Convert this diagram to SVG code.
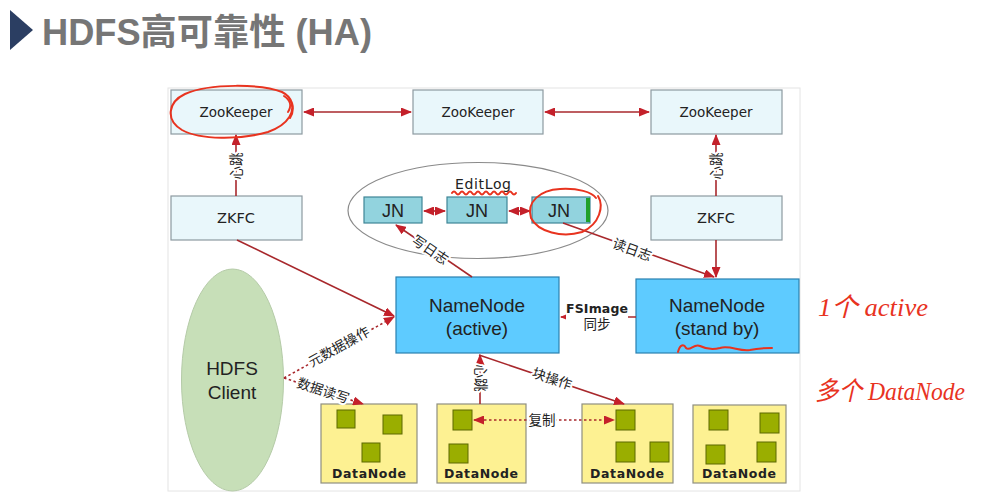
<svg xmlns="http://www.w3.org/2000/svg" width="986" height="503" viewBox="0 0 986 503">
<defs>
<marker id="ah" markerUnits="userSpaceOnUse" markerWidth="11" markerHeight="9" refX="10" refY="4.5" orient="auto-start-reverse" viewBox="0 0 11 9">
<path d="M0,0 L11,4.5 L0,9 z" fill="#c4202a"/>
</marker>
<style>
.ln{stroke:#a8282c;stroke-width:1.6;fill:none}
.dt{stroke:#a8282c;stroke-width:1.6;fill:none;stroke-dasharray:2.5 2.5}
.zk{fill:#e9f7fb;stroke:#8d9aa1;stroke-width:1.2}
.jn{fill:#92d3de;stroke:#3f8596;stroke-width:1.2}
.nn{fill:#5ecbff;stroke:#2a80b0;stroke-width:1.2}
.dn{fill:#fdf192;stroke:#8f8f80;stroke-width:1.2}
.blk{fill:#9aae00;stroke:#5c6900;stroke-width:1}
.t{font-family:"DejaVu Sans","Noto Sans CJK SC",sans-serif;fill:#222;text-anchor:middle}
.s{font-family:"Liberation Sans","Noto Sans CJK SC",sans-serif;fill:#222;text-anchor:middle}
.lbl{font-family:"Noto Sans CJK SC",sans-serif;font-size:13.5px;fill:#222;text-anchor:middle;stroke:#fff;stroke-width:4;paint-order:stroke;stroke-linejoin:round}
.red{fill:none;stroke:#e8331f;stroke-width:2;stroke-linecap:round;stroke-linejoin:round}
.hw{font-family:"Liberation Serif","Noto Sans CJK SC",serif;font-style:italic;fill:#e8331f}
</style>
</defs>
<rect width="986" height="503" fill="#ffffff"/>
<g id="title">
<path d="M10,10 L33,30 L10,50 z" fill="#2b3e62"/>
<text x="42" y="45" font-family="Liberation Sans,'Noto Sans CJK SC',sans-serif" font-weight="bold" font-size="36" fill="#767676" textLength="330" lengthAdjust="spacingAndGlyphs">HDFS高可靠性 (HA)</text>
</g>
<rect id="panel" x="168" y="88" width="632" height="403" fill="#ffffff" stroke="#e4e4e4" stroke-width="1"/>

<g id="journal-ring"><ellipse cx="478" cy="210.5" rx="130" ry="48" fill="none" stroke="#8a8a8a" stroke-width="1.2"/>
<text x="483" y="189" class="t" font-size="14" textLength="56">EditLog</text></g>

<g id="zk1"><rect class="zk" x="171" y="90" width="131" height="44"/><text class="t" x="236" y="117" font-size="13.5">ZooKeeper</text></g>
<g id="zk2"><rect class="zk" x="413" y="90" width="130" height="44"/><text class="t" x="478" y="117" font-size="13.5">ZooKeeper</text></g>
<g id="zk3"><rect class="zk" x="651" y="90" width="131" height="44"/><text class="t" x="716" y="117" font-size="13.5">ZooKeeper</text></g>
<g id="zkfc1"><rect class="zk" x="171" y="196" width="131" height="44"/><text class="t" x="236" y="223" font-size="14.5">ZKFC</text></g>
<g id="zkfc2"><rect class="zk" x="651" y="196" width="131" height="44"/><text class="t" x="716" y="223" font-size="14.5">ZKFC</text></g>

<g id="jn1"><rect class="jn" x="364" y="197" width="58" height="26"/><text class="s" x="393" y="217" font-size="18">JN</text></g>
<g id="jn2"><rect class="jn" x="447" y="197" width="60" height="26"/><text class="s" x="477" y="217" font-size="18">JN</text></g>
<g id="jn3"><rect class="jn" x="532" y="197" width="58" height="26"/><rect x="586" y="198" width="4" height="24" fill="#1fa02a"/><text class="s" x="559" y="217" font-size="18">JN</text></g>

<g id="nn-active"><rect class="nn" x="396" y="277" width="163" height="76"/><text class="s" x="477" y="312" font-size="19">NameNode</text><text class="s" x="477" y="335" font-size="19">(active)</text></g>
<g id="nn-standby"><rect class="nn" x="636" y="279" width="163" height="74"/><text class="s" x="717" y="312" font-size="19">NameNode</text><text class="s" x="717" y="335" font-size="19">(stand by)</text></g>

<g id="client"><ellipse cx="232.5" cy="380" rx="51" ry="111" fill="#c7dfb8" stroke="#b5cba8" stroke-width="1"/><text class="s" x="232" y="375" font-size="19">HDFS</text><text class="s" x="232" y="399" font-size="19">Client</text></g>

<g id="dn1"><rect class="dn" x="321" y="404" width="96" height="79"/>
<rect class="blk" x="337" y="410" width="18" height="18"/><rect class="blk" x="383" y="415" width="19" height="19"/><rect class="blk" x="362" y="443" width="18" height="19"/>
<text class="t" x="369" y="478" font-size="12.5" font-weight="bold" textLength="74">DataNode</text></g>
<g id="dn2"><rect class="dn" x="437" y="404" width="89" height="79"/>
<rect class="blk" x="453" y="410" width="19" height="20"/><rect class="blk" x="449" y="444" width="19" height="19"/>
<text class="t" x="481" y="478" font-size="12.5" font-weight="bold" textLength="74">DataNode</text></g>
<g id="dn3"><rect class="dn" x="582" y="404" width="91" height="79"/>
<rect class="blk" x="616" y="410" width="19" height="20"/><rect class="blk" x="616" y="442" width="19" height="20"/><rect class="blk" x="650" y="442" width="19" height="20"/>
<text class="t" x="627" y="478" font-size="12.5" font-weight="bold" textLength="74">DataNode</text></g>
<g id="dn4"><rect class="dn" x="693" y="405" width="93" height="78"/>
<rect class="blk" x="709" y="410" width="19" height="20"/><rect class="blk" x="760" y="413" width="19" height="20"/><rect class="blk" x="706" y="445" width="19" height="19"/><rect class="blk" x="757" y="442" width="19" height="20"/>
<text class="t" x="739" y="478" font-size="12.5" font-weight="bold" textLength="74">DataNode</text></g>

<g id="connectors">
<line class="ln" x1="304" y1="112" x2="411" y2="112" marker-start="url(#ah)" marker-end="url(#ah)"/>
<line class="ln" x1="545" y1="112" x2="649" y2="112" marker-start="url(#ah)" marker-end="url(#ah)"/>
<line class="ln" x1="236" y1="196" x2="236" y2="135" marker-end="url(#ah)"/>
<text class="lbl" transform="translate(236,166) rotate(-90)" y="4.5">心跳</text>
<line class="ln" x1="716" y1="196" x2="716" y2="135" marker-end="url(#ah)"/>
<text class="lbl" transform="translate(716,166) rotate(-90)" y="4.5">心跳</text>
<line class="ln" x1="424" y1="211" x2="445" y2="211" marker-start="url(#ah)" marker-end="url(#ah)"/>
<line class="ln" x1="509" y1="211" x2="530" y2="211" marker-start="url(#ah)" marker-end="url(#ah)"/>
<line class="ln" x1="716" y1="240" x2="716" y2="277" marker-end="url(#ah)"/>
<line class="ln" x1="237" y1="240" x2="394" y2="316" marker-end="url(#ah)"/>
<line class="ln" x1="472" y1="277" x2="396" y2="225" marker-end="url(#ah)"/>
<text class="lbl" transform="translate(430,250) rotate(34)" y="4.5">写日志</text>
<line class="ln" x1="563" y1="223" x2="714" y2="277" marker-end="url(#ah)"/>
<text class="lbl" transform="translate(632,250) rotate(20)" y="4.5">读日志</text>
<line class="ln" x1="636" y1="317" x2="561" y2="317" marker-end="url(#ah)"/>
<rect x="566" y="302" width="62" height="29" fill="#ffffff"/>
<text class="t" x="597" y="313" font-size="12.5" font-weight="bold" textLength="62">FSImage</text>
<text class="t" x="597" y="329" font-size="13.5" font-family="Noto Sans CJK SC,sans-serif">同步</text>
<line class="dt" x1="284" y1="378" x2="394" y2="317" marker-end="url(#ah)"/>
<text class="lbl" transform="translate(339,347) rotate(-29)" y="4.5">元数据操作</text>
<line class="dt" x1="284" y1="378" x2="363" y2="404" marker-end="url(#ah)"/>
<text class="lbl" transform="translate(323,391) rotate(18)" y="4.5">数据读写</text>
<line class="ln" x1="480" y1="404" x2="480" y2="355" marker-end="url(#ah)"/>
<text class="lbl" transform="translate(480,378) rotate(90)" y="4.5">心跳</text>
<line class="ln" x1="479" y1="355" x2="624" y2="404" marker-end="url(#ah)"/>
<text class="lbl" transform="translate(552,379) rotate(18.5)" y="4.5">块操作</text>
<line class="dt" x1="474" y1="420" x2="614" y2="420" marker-start="url(#ah)" marker-end="url(#ah)"/>
<text class="lbl" x="542" y="425">复制</text>
</g>

<g id="annotations">
<path class="red" d="M290,100 C296,110 290,124 268,132 C240,140 200,140 182,130 C165,120 168,102 185,94 C210,83 262,84 282,92 C292,97 296,108 290,118"/>
<path class="red" d="M284,96 C290,100 292,106 288,112"/>
<path class="red" stroke-width="1.5" d="M452,193 q2,-3 4,0 t4,0 t4,0 t4,0 t4,0 t4,0 t4,0 t4,0 t4,0 t4,0 t4,0 t4,0 t4,0 t4,0 t4,0 t4,0"/>
<path class="red" d="M598,196 C604,206 600,224 582,232 C562,238 538,232 531,218 C526,202 540,190 560,189 C578,188 592,192 596,198"/>
<path class="red" stroke-width="1.5" d="M678,352 C680,344 684,344 686,348 C690,352 694,343 700,346 C706,349 712,350 720,348 C730,345 740,352 750,350 C758,348 765,348 772,348"/>
<text class="hw" x="818" y="316" font-size="26" textLength="110" lengthAdjust="spacingAndGlyphs">1个 active</text>
<text class="hw" x="815" y="400" font-size="26" textLength="150" lengthAdjust="spacingAndGlyphs">多个 DataNode</text>
</g>
</svg>
